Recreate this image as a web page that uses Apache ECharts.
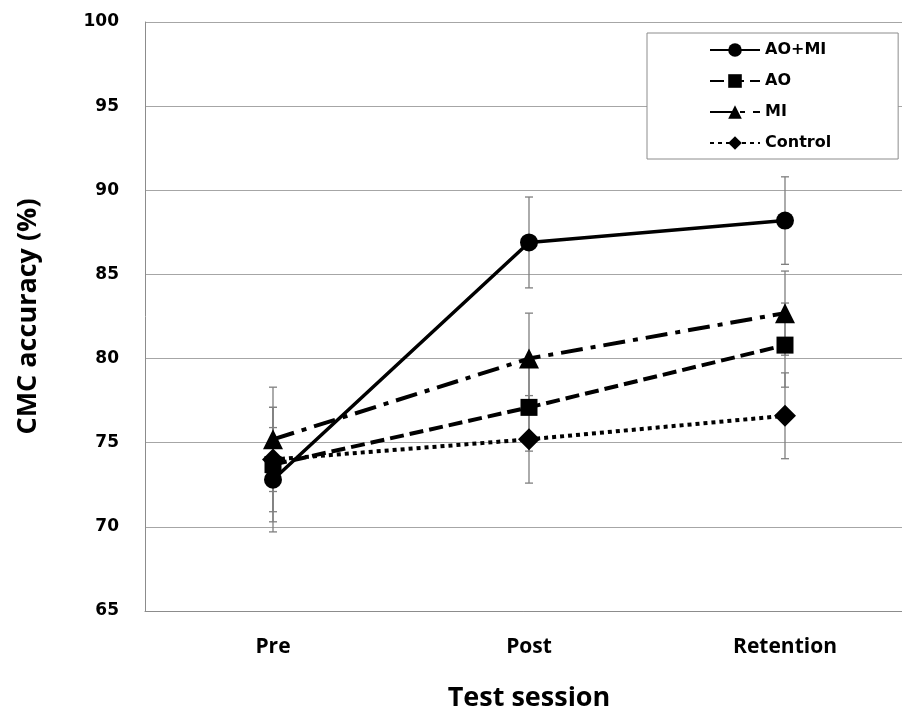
<!DOCTYPE html>
<html>
<head>
<meta charset="utf-8">
<script src="https://cdn.jsdelivr.net/npm/echarts@6/dist/echarts.min.js"></script>
<style>
html,body{margin:0;padding:0;background:#fff;}
#chart{width:902px;height:712px;}
</style>
</head>
<body>
<div id="chart"></div>
<script>
const categories = ['Pre', 'Post', 'Retention'];
const aoMi = [72.8, 86.9, 88.2];
const ao = [73.7, 77.1, 80.8];
const mi = [75.2, 80.0, 82.7];
const control = [74.0, 75.2, 76.6];
const aoMiErr = [3.1, 2.7, 2.6];
const aoErr = [3.4, 2.6, 2.5];
const miErr = [3.1, 2.7, 2.5];
const controlErr = [3.1, 2.6, 2.55];
const yMin = 65, yMax = 100, yStep = 5;

function errData(vals, errs) {
  return vals.map((v, i) => [i, v - errs[i], v + errs[i]]);
}
function renderErr(params, api) {
  const x = api.value(0);
  const lo = api.coord([x, api.value(1)]);
  const hi = api.coord([x, api.value(2)]);
  const w = 4;
  const st = { stroke: '#7f7f7f', lineWidth: 1.3 };
  return {
    type: 'group',
    children: [
      { type: 'line', shape: { x1: lo[0], y1: lo[1], x2: hi[0], y2: hi[1] }, style: st },
      { type: 'line', shape: { x1: lo[0] - w, y1: lo[1], x2: lo[0] + w, y2: lo[1] }, style: st },
      { type: 'line', shape: { x1: hi[0] - w, y1: hi[1], x2: hi[0] + w, y2: hi[1] }, style: st }
    ]
  };
}
function errSeries(vals, errs) {
  return {
    type: 'custom', renderItem: renderErr, data: errData(vals, errs),
    encode: { x: 0, y: [1, 2] }, z: 1, silent: true
  };
}
function lineSeries(name, vals, symbol, size, type, width) {
  return {
    name: name, type: 'line', data: vals, symbol: symbol, symbolSize: size,
    z: 3,
    lineStyle: { color: '#000', width: width, type: type, cap: 'butt' },
    itemStyle: { color: '#000' }
  };
}

const chart = echarts.init(document.getElementById('chart'));
chart.setOption({
  animation: false,
  backgroundColor: '#fff',
  grid: { left: 145, top: 22, width: 768, height: 589, containLabel: false, outerBoundsMode: 'none' },
  legend: {
    orient: 'vertical',
    left: 647, top: 33,
    padding: [9, 67, 8, 62],
    itemWidth: 50, itemHeight: 17, itemGap: 15,
    backgroundColor: '#fff',
    borderColor: '#8c8c8c', borderWidth: 1,
    data: ['AO+MI', 'AO', 'MI', 'Control'],
    textStyle: { fontFamily: 'DejaVu Sans', fontWeight: 'bold', fontSize: 16, color: '#000' }
  },
  xAxis: {
    type: 'category', data: categories, boundaryGap: true,
    name: 'Test session', nameLocation: 'middle', nameGap: 74,
    nameTextStyle: { fontFamily: 'Open Sans', fontWeight: 'bold', fontSize: 27, color: '#000' },
    axisLine: { lineStyle: { color: '#8c8c8c', width: 1 } },
    axisTick: { show: false },
    axisLabel: { margin: 26, fontFamily: 'Open Sans', fontWeight: 'bold', fontSize: 21, color: '#000' },
    splitLine: { show: false }
  },
  yAxis: {
    type: 'value', min: yMin, max: yMax, interval: yStep,
    name: 'CMC accuracy (%)', nameLocation: 'middle', nameGap: 103,
    nameTextStyle: { fontFamily: 'Open Sans', fontWeight: 'bold', fontSize: 27, color: '#000' },
    axisLine: { show: true, lineStyle: { color: '#8c8c8c', width: 1 } },
    axisTick: { show: false },
    axisLabel: { margin: 26, fontFamily: 'DejaVu Sans', fontWeight: 'bold', fontSize: 17, color: '#000' },
    splitLine: { show: true, lineStyle: { color: '#a6a6a6', width: 1 } }
  },
  series: [
    errSeries(aoMi, aoMiErr),
    errSeries(ao, aoErr),
    errSeries(mi, miErr),
    errSeries(control, controlErr),
    lineSeries('AO+MI', aoMi, 'circle', 18, 'solid', 3.5),
    lineSeries('AO', ao, 'rect', 17, [14, 6], 4),
    lineSeries('MI', mi, 'triangle', 20, [22, 8, 5, 8], 4),
    lineSeries('Control', control, 'diamond', 22, [4, 4], 4)
  ]
});
</script>
</body>
</html>
